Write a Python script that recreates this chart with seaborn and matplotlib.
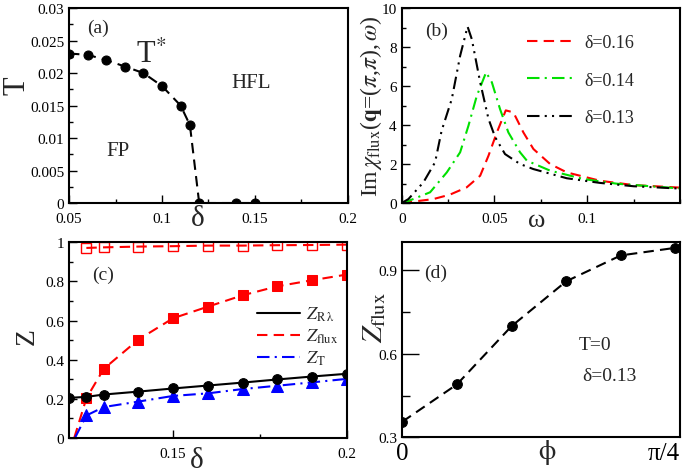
import numpy as np
import pandas as pd
import matplotlib
matplotlib.use("Agg")
import matplotlib.pyplot as plt
import seaborn as sns
from matplotlib.lines import Line2D
from matplotlib.ticker import MultipleLocator, FixedLocator

# ---------------- data ----------------
# (a) crossover temperature T* versus doping
delta_a = [0.05, 0.06, 0.07, 0.08, 0.09, 0.10, 0.11, 0.115, 0.12, 0.14, 0.15]
tstar_a = [0.023, 0.0228, 0.022, 0.021, 0.020, 0.018, 0.015, 0.012, 0.0, 0.0, 0.0]

# (b) Im chi_flux(q=(pi,pi), omega) for three dopings
omega_016 = [0.0, 0.0027, 0.017, 0.026, 0.035, 0.0423, 0.0468, 0.0513, 0.0561,
             0.0602, 0.0656, 0.071, 0.080, 0.089, 0.107, 0.125, 0.150]
chi_016 = [0.0, 0.03, 0.2, 0.43, 0.8, 1.4, 2.43, 3.62, 4.75,
           4.65, 3.62, 2.77, 2.0, 1.57, 1.14, 0.92, 0.79]

omega_014 = [0.0, 0.0027, 0.0153, 0.0243, 0.0315, 0.036, 0.0405, 0.0455, 0.0486,
             0.053, 0.0575, 0.0638, 0.0675, 0.080, 0.098, 0.116, 0.134, 0.150]
chi_014 = [0.0, 0.07, 0.55, 1.57, 2.6, 3.97, 5.5, 6.7, 6.19,
           4.82, 3.62, 2.6, 2.17, 1.66, 1.23, 0.99, 0.86, 0.75]

omega_013 = [0.0, 0.0036, 0.0117, 0.018, 0.0215, 0.027, 0.0315, 0.0355, 0.0378,
             0.0423, 0.0468, 0.0504, 0.0557, 0.0638, 0.071, 0.089, 0.107, 0.125, 0.150]
chi_013 = [0.0, 0.2, 1.06, 2.09, 3.7, 5.33, 7.55, 9.05, 8.4,
           6.19, 4.31, 3.37, 2.51, 2.0, 1.74, 1.27, 1.03, 0.86, 0.74]

# (c) quasiparticle weights versus doping
delta_c = [0.125, 0.13, 0.14, 0.15, 0.16, 0.17, 0.18, 0.19, 0.20]
z_open = [0.971, 0.974, 0.978, 0.980, 0.983, 0.983, 0.985, 0.986, 0.988]

delta_zr = [0.12, 0.125, 0.13, 0.14, 0.15, 0.16, 0.17, 0.18, 0.19, 0.20]
z_r = [0.205, 0.21, 0.222, 0.237, 0.253, 0.268, 0.283, 0.299, 0.314, 0.328]

delta_zf = [0.1215, 0.125, 0.13, 0.14, 0.15, 0.16, 0.17, 0.18, 0.19, 0.20]
z_flux = [0.0, 0.203, 0.353, 0.503, 0.612, 0.671, 0.729, 0.775, 0.806, 0.835]

delta_zt = [0.1217, 0.125, 0.13, 0.14, 0.15, 0.16, 0.17, 0.18, 0.19, 0.20]
z_t = [0.0, 0.115, 0.158, 0.186, 0.215, 0.228, 0.25, 0.267, 0.284, 0.302]

# (d) Z_flux versus phase phi at T=0, delta=0.13
phi_d = [0.0, 0.1545, 0.309, 0.4635, 0.618, 0.771]
zflux_d = [0.356, 0.490, 0.699, 0.860, 0.953, 0.980]

# ---------------- style ----------------
sns.set_theme(style="ticks")
plt.rcParams["font.family"] = ["Liberation Serif", "DejaVu Serif"]
plt.rcParams["mathtext.fontset"] = "stix"
plt.rcParams["axes.linewidth"] = 1.5
plt.rcParams["axes.edgecolor"] = "black"
plt.rcParams["xtick.color"] = "black"
plt.rcParams["ytick.color"] = "black"

DASH = (0, (5, 3))
DASHDOT = (0, (6, 2.5, 1, 2.5))
DASHDOTDOT = (0, (6, 2.5, 1, 2.5, 1, 2.5))

fig = plt.figure(figsize=(6.82, 4.77), dpi=100)
ax_a = fig.add_axes([0.1012, 0.5723, 0.4090, 0.4088])
ax_b = fig.add_axes([0.5890, 0.5723, 0.4080, 0.4088])
ax_c = fig.add_axes([0.1012, 0.0797, 0.4072, 0.4103])
ax_d = fig.add_axes([0.5899, 0.0811, 0.4072, 0.4088])


def style_ticks(ax, size=11, major=6, minor=3):
    ax.tick_params(which="both", direction="in", top=False, right=False,
                   labelsize=size, width=1.0, pad=3.5)
    ax.tick_params(axis="x", which="both", pad=6.5)
    ax.tick_params(which="major", length=major)
    ax.tick_params(which="minor", length=minor)


# ---------------- (a) ----------------
sns.lineplot(x=delta_a, y=tstar_a, ax=ax_a, color="black", linestyle=DASH,
             lw=1.5, marker="o", markersize=6.5, markeredgecolor="black",
             markerfacecolor="black", sort=False)
ax_a.set_xlim(0.05, 0.2)
ax_a.set_ylim(0, 0.03)
ax_a.set_xticks([0.05, 0.1, 0.15, 0.2])
ax_a.set_xticklabels(["0.05", "0.1", "0.15", "0.2"])
ax_a.xaxis.set_minor_locator(FixedLocator([0.075, 0.125, 0.175]))
ax_a.set_yticks([0, 0.005, 0.01, 0.015, 0.02, 0.025, 0.03])
ax_a.set_yticklabels(["0", "0.005", "0.01", "0.015", "0.02", "0.025", "0.03"])
ax_a.yaxis.set_minor_locator(MultipleLocator(0.0025))
style_ticks(ax_a)
ax_a.set_xlabel("δ", fontsize=21, va="center")
ax_a.xaxis.set_label_coords(0.46, -0.075)
ax_a.set_ylabel("T", fontsize=22, va="center")
ax_a.yaxis.set_label_coords(-0.187, 0.605)
ax_a.text(0.105, 0.90, "(a)", transform=ax_a.transAxes, fontsize=14,
          ha="center", va="center")
ax_a.text(0.295, 0.76, r"T$^{*}$", transform=ax_a.transAxes, fontsize=22,
          ha="center", va="center")
ax_a.text(0.652, 0.62, "HFL", transform=ax_a.transAxes, fontsize=15,
          ha="center", va="center")
ax_a.text(0.176, 0.27, "FP", transform=ax_a.transAxes, fontsize=15,
          ha="center", va="center")

# ---------------- (b) ----------------
sns.lineplot(x=omega_016, y=chi_016, ax=ax_b, color="#ff0000", linestyle=DASH,
             lw=1.5, sort=False)
sns.lineplot(x=omega_014, y=chi_014, ax=ax_b, color="#00e000", linestyle=DASHDOT,
             lw=1.5, sort=False)
sns.lineplot(x=omega_013, y=chi_013, ax=ax_b, color="black", linestyle=DASHDOTDOT,
             lw=1.5, sort=False)
ax_b.set_xlim(0, 0.15)
ax_b.set_ylim(0, 10)
ax_b.set_xticks([0, 0.05, 0.1])
ax_b.set_xticklabels(["0", "0.05", "0.1"])
ax_b.xaxis.set_minor_locator(MultipleLocator(0.025))
ax_b.yaxis.set_major_locator(MultipleLocator(2))
ax_b.yaxis.set_minor_locator(MultipleLocator(1))
style_ticks(ax_b)
ax_b.set_xlabel("ω", fontsize=19, va="center")
ax_b.xaxis.set_label_coords(0.485, -0.085)
ax_b.set_ylabel(r"Im$\,\chi_{\rm flux}$(${\mathbf{q}}$=($\pi$,$\pi$),$\,\omega$)",
                fontsize=17, va="center")
ax_b.yaxis.set_label_coords(-0.112, 0.5)
ax_b.text(0.126, 0.884, "(b)", transform=ax_b.transAxes, fontsize=14,
          ha="center", va="center")
handles_b = [
    Line2D([], [], color="#ff0000", linestyle=DASH, lw=1.5),
    Line2D([], [], color="#00e000", linestyle=DASHDOT, lw=1.5),
    Line2D([], [], color="black", linestyle=DASHDOTDOT, lw=1.5),
]
ax_b.legend(handles_b, ["δ=0.16", "δ=0.14", "δ=0.13"], loc="center left",
            bbox_to_anchor=(0.45, 0.63), frameon=False, fontsize=13,
            handlelength=2.6, handletextpad=0.6, labelspacing=1.15,
            borderpad=0, borderaxespad=0)

# ---------------- (c) ----------------
sns.lineplot(x=delta_c, y=z_open, ax=ax_c, color="#ff0000", linestyle=DASH,
             lw=1.5, marker="s", markersize=6.5, markerfacecolor="none",
             markeredgecolor="#ff0000", markeredgewidth=1.0, sort=False)
sns.lineplot(x=delta_zf, y=z_flux, ax=ax_c, color="#ff0000", linestyle=DASH,
             lw=1.5, marker="s", markersize=6.5, markerfacecolor="#ff0000",
             markeredgecolor="#ff0000", markevery=list(range(1, len(z_flux))),
             sort=False)
sns.lineplot(x=delta_zt, y=z_t, ax=ax_c, color="#0000ff", linestyle=DASHDOT,
             lw=1.5, marker="^", markersize=8, markerfacecolor="#0000ff",
             markeredgecolor="#0000ff", markevery=list(range(1, len(z_t))),
             sort=False)
sns.lineplot(x=delta_zr, y=z_r, ax=ax_c, color="black", linestyle="-",
             lw=1.5, marker="o", markersize=7, markerfacecolor="black",
             markeredgecolor="black", sort=False)
ax_c.set_xlim(0.12, 0.2)
ax_c.set_ylim(0, 1)
ax_c.set_xticks([0.15, 0.2])
ax_c.set_xticklabels(["0.15", "0.2"])
ax_c.xaxis.set_minor_locator(FixedLocator([0.175]))
ax_c.set_yticks([0, 0.2, 0.4, 0.6, 0.8, 1.0])
ax_c.set_yticklabels(["0", "0.2", "0.4", "0.6", "0.8", "1"])
ax_c.yaxis.set_minor_locator(MultipleLocator(0.1))
style_ticks(ax_c)
ax_c.set_xlabel("δ", fontsize=21, va="center")
ax_c.xaxis.set_label_coords(0.461, -0.112)
ax_c.set_ylabel("Z", fontsize=20, va="center")
ax_c.yaxis.set_label_coords(-0.151, 0.521)
ax_c.text(0.1235, 0.838, "(c)", transform=ax_c.transAxes, fontsize=14,
          ha="center", va="center")
handles_c = [
    Line2D([], [], color="black", linestyle="-", lw=1.5),
    Line2D([], [], color="#ff0000", linestyle=DASH, lw=1.5),
    Line2D([], [], color="#0000ff", linestyle=DASHDOT, lw=1.5),
]
ax_c.legend(handles_c, [r"$Z_{\rm R\,\lambda}$", r"$Z_{\rm flux}$", r"$Z_{\rm T}$"],
            loc="center left", bbox_to_anchor=(0.676, 0.52), frameon=False,
            fontsize=13, handlelength=2.4, handletextpad=0.3,
            labelspacing=0.2, borderpad=0, borderaxespad=0)

# ---------------- (d) ----------------
sns.lineplot(x=phi_d, y=zflux_d, ax=ax_d, color="black", linestyle=DASH,
             lw=1.5, marker="o", markersize=7, markerfacecolor="black",
             markeredgecolor="black", sort=False)
ax_d.set_xlim(0, np.pi / 4)
ax_d.set_ylim(0.3, 1.0)
ax_d.set_xticks([0, np.pi / 4])
ax_d.set_xticklabels(["0", "π/4"])
ax_d.get_xticklabels()[-1].set_horizontalalignment("right")
ax_d.set_yticks([0.3, 0.6, 0.9])
ax_d.set_yticklabels(["0.3", "0.6", "0.9"])
ax_d.yaxis.set_minor_locator(FixedLocator([0.45, 0.75]))
style_ticks(ax_d, major=12, minor=6)
ax_d.tick_params(axis="x", labelsize=18, length=0, pad=3.5)
ax_d.set_xlabel(r"$\mathrm{\phi}$", fontsize=20, va="center")
ax_d.xaxis.set_label_coords(0.52, -0.075)
ax_d.set_ylabel(r"$Z_{\rm flux}$", fontsize=21, va="center")
ax_d.yaxis.set_label_coords(-0.098, 0.617)
ax_d.text(0.120, 0.846, "(d)", transform=ax_d.transAxes, fontsize=14,
          ha="center", va="center")
ax_d.text(0.694, 0.478, "T=0", transform=ax_d.transAxes, fontsize=14,
          ha="center", va="center")
ax_d.text(0.745, 0.316, "δ=0.13", transform=ax_d.transAxes, fontsize=14,
          ha="center", va="center")

for ax in (ax_a, ax_b, ax_c, ax_d):
    for sp in ax.spines.values():
        sp.set_visible(True)
        sp.set_linewidth(1.5)
        sp.set_color("black")

fig.savefig("out.png", dpi=100)
